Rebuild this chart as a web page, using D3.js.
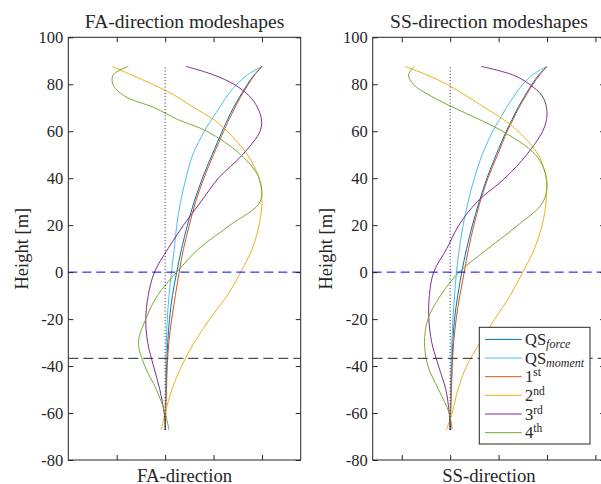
<!DOCTYPE html>
<html>
<head>
<meta charset="utf-8">
<script src="https://cdn.jsdelivr.net/npm/d3@7"></script>
<style>
  body { margin: 0; background: #fff; }
  svg { display: block; }
  text { font-family: "Liberation Serif", "Times New Roman", serif; fill: #262626; }
</style>
</head>
<body>
<svg id="fig" width="601" height="484"></svg>
<script>
// Heights along the structure [m]
const heights = [-67.2, -60, -50, -40, -30, -20, -10, 0, 10, 20, 30, 40, 50, 60, 65, 70, 75, 80, 84, 87.6];

const yTicks = [-80, -60, -40, -20, 0, 20, 40, 60, 80, 100];
const faTicks = [-0.5, 0, 0.5, 1];
const ssTicks = [-0.5, 0, 0.5, 1, 1.5];

const waterLevel = 0;
const mudline = -36.7;

const seriesKeys = ["qsForce", "qsMoment", "mode1", "mode2", "mode3", "mode4"];
const seriesColors = ["#0072BD", "#4DBEEE", "#D95319", "#EDB120", "#7E2F8E", "#77AC30"];

// Fore-aft normalised mode shapes
const faQsForce  = [0, 0.003, 0.008, 0.015, 0.027, 0.045, 0.075, 0.12, 0.17, 0.23, 0.30, 0.385, 0.485, 0.59, 0.645, 0.705, 0.775, 0.85, 0.92, 1.0];
const faQsMoment = [0, 0.002, 0.004, 0.008, 0.013, 0.022, 0.04, 0.065, 0.095, 0.12, 0.16, 0.215, 0.285, 0.405, 0.48, 0.56, 0.64, 0.74, 0.85, 1.0];
const faMode1    = [0, 0.007, 0.014, 0.022, 0.038, 0.068, 0.105, 0.145, 0.19, 0.25, 0.315, 0.40, 0.50, 0.605, 0.66, 0.72, 0.785, 0.86, 0.925, 1.0];
const faMode2    = [-0.04, 0.0, 0.07, 0.17, 0.30, 0.46, 0.64, 0.78, 0.90, 0.97, 1.0, 0.97, 0.85, 0.64, 0.50, 0.30, 0.11, -0.13, -0.35, -0.545];
const faMode3    = [0.005, -0.01, -0.055, -0.12, -0.18, -0.2, -0.175, -0.11, 0.03, 0.19, 0.37, 0.55, 0.80, 0.98, 0.995, 0.955, 0.87, 0.71, 0.50, 0.217];
const faMode4    = [0.04, 0.0, -0.09, -0.21, -0.275, -0.2, -0.08, 0.12, 0.35, 0.67, 0.98, 0.97, 0.78, 0.43, 0.13, -0.11, -0.42, -0.54, -0.535, -0.38];

// Side-side normalised mode shapes
const ssQsForce  = [0, 0.003, 0.008, 0.015, 0.027, 0.045, 0.078, 0.12, 0.17, 0.23, 0.30, 0.38, 0.475, 0.58, 0.64, 0.70, 0.77, 0.845, 0.915, 1.0];
const ssQsMoment = [0, 0.002, 0.005, 0.01, 0.017, 0.028, 0.045, 0.065, 0.095, 0.134, 0.185, 0.25, 0.33, 0.44, 0.51, 0.58, 0.66, 0.75, 0.85, 1.0];
const ssMode1    = [0, 0.006, 0.013, 0.022, 0.036, 0.062, 0.10, 0.145, 0.19, 0.245, 0.31, 0.39, 0.49, 0.59, 0.65, 0.71, 0.78, 0.855, 0.925, 1.0];
const ssMode2    = [-0.04, 0.02, 0.08, 0.17, 0.31, 0.46, 0.62, 0.75, 0.87, 0.95, 0.99, 0.99, 0.91, 0.70, 0.55, 0.36, 0.17, -0.035, -0.24, -0.47];
const ssMode3    = [0.0, -0.01, -0.045, -0.12, -0.19, -0.22, -0.215, -0.17, -0.035, 0.09, 0.28, 0.565, 0.79, 0.955, 0.995, 0.995, 0.95, 0.82, 0.645, 0.32];
const ssMode4    = [0.02, -0.01, -0.12, -0.23, -0.265, -0.23, -0.10, 0.093, 0.39, 0.70, 0.96, 0.995, 0.88, 0.54, 0.30, 0.04, -0.2, -0.38, -0.43, -0.37];

const svg = d3.select("#fig");

const yScale = d3.scaleLinear().domain([-80, 100]).range([460, 37.3]);

const panels = [
  { title: "FA-direction modeshapes", xlabel: "FA-direction", left: 68.3, domain: [-1, 1.4], ticks: faTicks,
    values: [faQsForce, faQsMoment, faMode1, faMode2, faMode3, faMode4] },
  { title: "SS-direction modeshapes", xlabel: "SS-direction", left: 372.7, domain: [-0.8, 1.6], ticks: ssTicks,
    values: [ssQsForce, ssQsMoment, ssMode1, ssMode2, ssMode3, ssMode4] }
];
const panelWidth = 232.4;
const [yTop, yBottom] = [37.3, 460];

panels.forEach((p, pi) => {
  const x = d3.scaleLinear().domain(p.domain).range([p.left, p.left + panelWidth]);
  const g = svg.append("g");

  // curves
  const line = d3.line()
    .x(d => x(d.v))
    .y(d => yScale(d.h))
    .curve(d3.curveCatmullRom.alpha(0.5));

  p.values.forEach((vals, i) => {
    const pts = heights.map((h, k) => ({ h, v: vals[k] }));
    g.append("path")
      .attr("d", line(pts))
      .attr("fill", "none")
      .attr("stroke", seriesColors[i])
      .attr("stroke-width", 1);
  });

  // reference lines
  g.append("line")
    .attr("x1", x(0)).attr("x2", x(0))
    .attr("y1", yScale(heights[0])).attr("y2", yScale(heights[heights.length - 1]))
    .attr("stroke", "#222").attr("stroke-width", 1).attr("stroke-dasharray", "1,2.2");
  g.append("line")
    .attr("x1", x.range()[0]).attr("x2", x.range()[1])
    .attr("y1", yScale(waterLevel)).attr("y2", yScale(waterLevel))
    .attr("stroke", "#0000FF").attr("stroke-width", 1).attr("stroke-dasharray", "9,5");
  g.append("line")
    .attr("x1", x.range()[0]).attr("x2", x.range()[1])
    .attr("y1", yScale(mudline)).attr("y2", yScale(mudline))
    .attr("stroke", "#262626").attr("stroke-width", 1).attr("stroke-dasharray", "10,5");

  // axes (ticks inward on all four sides)
  const tl = 5;
  g.append("g").attr("transform", `translate(0,${yBottom})`)
    .call(d3.axisBottom(x).tickValues(p.ticks).tickSize(-tl).tickFormat(""))
    .call(a => a.select(".domain").remove());
  g.append("g").attr("transform", `translate(0,${yTop})`)
    .call(d3.axisTop(x).tickValues(p.ticks).tickSize(-tl).tickFormat(""))
    .call(a => a.select(".domain").remove());
  g.append("g").attr("transform", `translate(${p.left},0)`)
    .call(d3.axisLeft(yScale).tickValues(yTicks).tickSize(-tl).tickPadding(5).tickFormat(d3.format("d")))
    .call(a => a.select(".domain").remove())
    .call(a => a.selectAll("text").style("font-size", "16.5px").attr("fill", "#262626")
      .style("font-family", "'Liberation Serif', serif").text(d => String(d)));
  g.append("g").attr("transform", `translate(${p.left + panelWidth},0)`)
    .call(d3.axisRight(yScale).tickValues(yTicks).tickSize(-tl).tickFormat(""))
    .call(a => a.select(".domain").remove());
  g.selectAll(".tick line").attr("stroke", "#262626");

  g.append("rect")
    .attr("x", p.left).attr("y", yTop)
    .attr("width", panelWidth).attr("height", yBottom - yTop)
    .attr("fill", "none").attr("stroke", "#262626").attr("stroke-width", 1);

  // titles and labels
  g.append("text").attr("x", p.left + panelWidth / 2).attr("y", 27.5)
    .attr("text-anchor", "middle").style("font-size", "19.5px").text(p.title);
  g.append("text").attr("x", p.left + panelWidth / 2).attr("y", 481.5)
    .attr("text-anchor", "middle").style("font-size", "18.7px").text(p.xlabel);
  g.append("text")
    .attr("transform", `translate(${27.5 + pi * 304.4},${(yTop + yBottom) / 2}) rotate(-90)`)
    .attr("text-anchor", "middle").style("font-size", "18.5px").text("Height [m]");
});

// legend
const legendRows = [
  { main: "QS", sub: "force" },
  { main: "QS", sub: "moment" },
  { main: "1", sup: "st" },
  { main: "2", sup: "nd" },
  { main: "3", sup: "rd" },
  { main: "4", sup: "th" }
];
const lg = svg.append("g");
lg.append("rect").attr("x", 479.3).attr("y", 327.3).attr("width", 110.7).attr("height", 116.7)
  .attr("fill", "#fff").attr("stroke", "#262626").attr("stroke-width", 1);
legendRows.forEach((r, i) => {
  const cy = 339.4 + i * 18.65;
  lg.append("line").attr("x1", 485).attr("x2", 521.7).attr("y1", cy).attr("y2", cy)
    .attr("stroke", seriesColors[i]).attr("stroke-width", 1);
  const t = lg.append("text").attr("x", 525).attr("y", cy + 5.5).style("font-size", "16.5px");
  t.append("tspan").text(r.main);
  if (r.sub) {
    t.append("tspan").attr("dy", 3).style("font-size", "12px").style("font-style", "italic").text(r.sub);
  }
  if (r.sup) {
    t.append("tspan").attr("dy", -6).style("font-size", "11.5px").text(r.sup);
  }
});
</script>
</body>
</html>
